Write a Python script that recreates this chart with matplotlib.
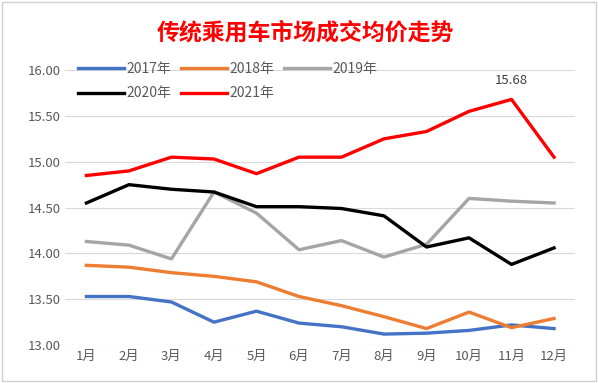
import matplotlib
matplotlib.use("Agg")
import matplotlib.pyplot as plt

plt.rcParams['font.family'] = ['Noto Sans CJK SC', 'DejaVu Sans']

months = ['1月', '2月', '3月', '4月', '5月', '6月', '7月', '8月', '9月', '10月', '11月', '12月']
y2017 = [13.53, 13.53, 13.47, 13.25, 13.37, 13.24, 13.20, 13.12, 13.13, 13.16, 13.22, 13.18]
y2018 = [13.87, 13.85, 13.79, 13.75, 13.69, 13.53, 13.43, 13.31, 13.18, 13.36, 13.19, 13.29]
y2019 = [14.13, 14.09, 13.94, 14.67, 14.44, 14.04, 14.14, 13.96, 14.10, 14.60, 14.57, 14.55]
y2020 = [14.55, 14.75, 14.70, 14.67, 14.51, 14.51, 14.49, 14.41, 14.07, 14.17, 13.88, 14.06]
y2021 = [14.85, 14.90, 15.05, 15.03, 14.87, 15.05, 15.05, 15.25, 15.33, 15.55, 15.68, 15.05]

series = [('2017年', y2017, '#4472C4'),
          ('2018年', y2018, '#ED7D31'),
          ('2019年', y2019, '#A5A5A5'),
          ('2020年', y2020, '#000000'),
          ('2021年', y2021, '#FF0000')]

fig = plt.figure(figsize=(5.98, 3.83), dpi=100)
ax = fig.add_axes([0.109, 0.099, 0.853, 0.718])

x = list(range(len(months)))
lines = {}
for name, vals, col in series:
    lines[name], = ax.plot(x, vals, color=col, linewidth=2.4, label=name)

# peak label
ax.annotate(f'{y2021[10]:.2f}', (x[10], y2021[10]), xytext=(0, 9),
            textcoords='offset points', ha='center', va='bottom',
            fontsize=9.5, color='#404040')

ax.set_xlim(-0.5, 11.5)
ax.set_ylim(13.0, 16.0)
ax.set_yticks([13.0, 13.5, 14.0, 14.5, 15.0, 15.5, 16.0])
ax.set_yticklabels([f'{v:.2f}' for v in ax.get_yticks()])
ax.set_xticks(x)
ax.set_xticklabels(months)
ax.tick_params(colors='#595959', labelsize=9.5, length=0)
ax.grid(axis='y', color='#D9D9D9', linewidth=0.8)
ax.set_axisbelow(True)
for s in ax.spines.values():
    s.set_visible(False)

# legend filled column by column, so order handles to read row by row
order = ['2017年', '2020年', '2018年', '2021年', '2019年']
ax.legend([lines[n] for n in order], order, loc='upper left',
          bbox_to_anchor=(0.0, 1.075), ncol=3, frameon=False,
          fontsize=10, handlelength=3.3, handletextpad=0.2, columnspacing=0.7,
          labelspacing=0.75, labelcolor='#595959')

fig.text(0.51, 0.915, '传统乘用车市场成交均价走势', ha='center', va='center',
         fontsize=16.5, fontweight='bold', color='#FF0000')

fig.patches.append(plt.Rectangle((0.003, 0.005), 0.993, 0.99, transform=fig.transFigure,
                                 fill=False, edgecolor='#D0D0D0', linewidth=1))

fig.savefig('out.png', dpi=100)
